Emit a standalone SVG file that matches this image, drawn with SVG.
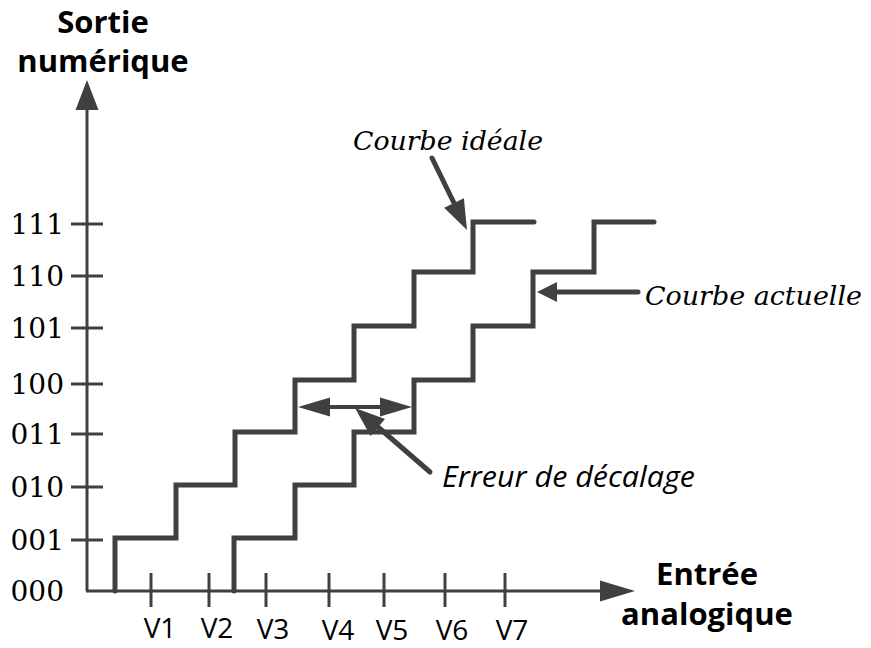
<svg xmlns="http://www.w3.org/2000/svg" width="871" height="648" viewBox="0 0 871 648">
<style>
.ax{stroke:#404040;stroke-width:3;fill:none}
.tk{stroke:#404040;stroke-width:3}
.cv{stroke:#404040;stroke-width:5;fill:none;stroke-linejoin:miter;stroke-linecap:round}
.ar{stroke:#404040;stroke-width:5;stroke-linecap:round;fill:none}
.hd{fill:#404040}
.yl{font-family:"DejaVu Serif",serif;font-size:28px;fill:#000;text-anchor:end}
.vl{font-family:"Open Sans",sans-serif;font-size:28px;fill:#000;text-anchor:middle}
.tt{font-family:"Open Sans",sans-serif;font-weight:bold;font-size:31px;fill:#000;text-anchor:middle}
.ci{font-family:"DejaVu Serif",serif;font-style:italic;font-size:26px;fill:#000}
.ei{font-family:"Open Sans",sans-serif;font-style:italic;font-size:29px;fill:#000}
</style>
<rect width="871" height="648" fill="#fff"/>
<g id="axes">
<line class="ax" x1="87" y1="591" x2="87" y2="108"/>
<polygon class="hd" points="87,80 75.5,110 98.5,110"/>
<line class="ax" x1="86" y1="591" x2="602" y2="591"/>
<polygon class="hd" points="635,591 600,580.5 600,601.5"/>
<g class="tk">
<line x1="71" y1="224" x2="103" y2="224"/>
<line x1="71" y1="276" x2="103" y2="276"/>
<line x1="71" y1="328" x2="103" y2="328"/>
<line x1="71" y1="384" x2="103" y2="384"/>
<line x1="71" y1="434" x2="103" y2="434"/>
<line x1="71" y1="487" x2="103" y2="487"/>
<line x1="71" y1="540" x2="103" y2="540"/>
<line x1="151" y1="573" x2="151" y2="607"/>
<line x1="209" y1="573" x2="209" y2="607"/>
<line x1="266" y1="573" x2="266" y2="607"/>
<line x1="329" y1="573" x2="329" y2="607"/>
<line x1="384" y1="573" x2="384" y2="607"/>
<line x1="445" y1="573" x2="445" y2="607"/>
<line x1="505" y1="573" x2="505" y2="607"/>
</g>
</g>
<g id="axis-titles">
<g id="title-y"><text class="tt" x="103" y="33">Sortie</text><text class="tt" x="103" y="72">numérique</text></g>
<g id="title-x"><text class="tt" x="707" y="585">Entrée</text><text class="tt" x="707" y="625">analogique</text></g>
</g>
<g id="y-labels">
<text class="yl" x="64" y="234">111</text>
<text class="yl" x="64" y="286">110</text>
<text class="yl" x="64" y="338">101</text>
<text class="yl" x="64" y="394">100</text>
<text class="yl" x="64" y="444">011</text>
<text class="yl" x="64" y="497">010</text>
<text class="yl" x="64" y="550">001</text>
<text class="yl" x="64" y="601">000</text>
</g>
<g id="x-labels">
<text class="vl" x="160" y="638">V1</text>
<text class="vl" x="217" y="638">V2</text>
<text class="vl" x="273" y="639">V3</text>
<text class="vl" x="338" y="640">V4</text>
<text class="vl" x="392" y="640">V5</text>
<text class="vl" x="452" y="640">V6</text>
<text class="vl" x="512" y="640">V7</text>
</g>
<g id="curve-ideal"><path class="cv" d="M115,591 V538 H176 V485 H235 V432 H295 V380 H354 V326 H414 V272 H473 V222 H534"/></g>
<g id="curve-actual"><path class="cv" d="M234,591 V538 H295 V485 H354 V432 H414 V380 H473 V326 H533 V272 H594 V222 H654"/></g>
<g id="label-ideal"><text class="ci" x="353" y="150" textLength="190" lengthAdjust="spacingAndGlyphs">Courbe idéale</text></g>
<g id="label-actual"><text class="ci" x="645" y="305" textLength="217" lengthAdjust="spacingAndGlyphs">Courbe actuelle</text></g>
<g id="label-error"><text class="ei" x="442" y="487" textLength="253" lengthAdjust="spacingAndGlyphs">Erreur de décalage</text></g>
<g id="connectors">
<line class="ar" x1="432" y1="158" x2="454" y2="203"/>
<polygon class="hd" points="467,230 463.9,198.2 444.1,207.8"/>
<line class="ar" x1="638" y1="292" x2="555" y2="292"/>
<polygon class="hd" points="537,292 557,282 557,302"/>
<line class="ar" x1="328" y1="407" x2="382" y2="407" style="stroke-width:4"/>
<polygon class="hd" points="298,407 330,397.5 330,416.5"/>
<polygon class="hd" points="412,407 380,397.5 380,416.5"/>
<line class="ar" x1="430" y1="472" x2="378" y2="427"/>
<polygon class="hd" points="355,408 385,419.1 370.6,435.9"/>
</g>
</svg>
